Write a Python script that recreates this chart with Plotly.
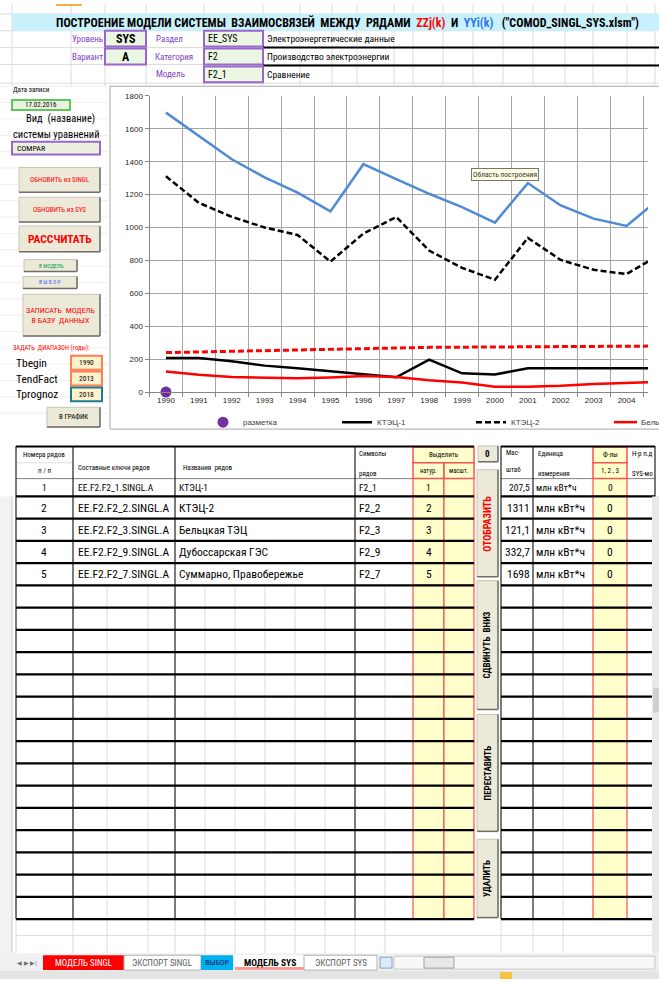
import plotly.graph_objects as go

W, H = 659, 984
def X(p): return p / W
def Y(p): return 1 - p / H

# ---------------- data ----------------
years = list(range(1990, 2006))
tick_years = list(range(1990, 2005))
mark_x = [1990]
mark_y = [0]
ktec1 = [207.5, 207, 187, 161, 145, 127, 107, 90, 197, 114, 107, 145, 145, 145, 145, 145]
ktec2 = [1311, 1150, 1065, 1000, 955, 793, 963, 1064, 860, 755, 683, 937, 803, 743, 717, 834]
belts = [125, 105, 92, 89, 84, 89, 98, 92, 72, 58, 33, 33, 38, 50, 58, 62]
dubos = [240, 244, 252, 256, 260, 264, 267, 270, 272, 273, 274, 276, 277, 278, 280, 280]
summa = [1698, 1555, 1415, 1305, 1212, 1098, 1385, 1294, 1205, 1124, 1030, 1270, 1134, 1054, 1010, 1176]
y_ticks = list(range(0, 1801, 200))

row_nums = ["1", "2", "3", "4", "5"]
row_keys = ["EE.F2.F2_1.SINGL.A", "EE.F2.F2_2.SINGL.A", "EE.F2.F2_3.SINGL.A",
            "EE.F2.F2_9.SINGL.A", "EE.F2.F2_7.SINGL.A"]
row_names = ["КТЭЦ-1", "КТЭЦ-2", "Бельцкая ТЭЦ", "Дубоссарская ГЭС", "Суммарно, Правобережье"]
row_syms = ["F2_1", "F2_2", "F2_3", "F2_9", "F2_7"]
row_sel = ["1", "2", "3", "4", "5"]
row_scale = ["207,5", "1311", "121,1", "332,7", "1698"]
row_unit = ["млн кВт*ч"] * 5
row_f = ["0"] * 5

NARROW = "Liberation Sans Narrow, Arial Narrow, Roboto Condensed, Liberation Sans, Arial, sans-serif"
SANS = "Liberation Sans, Arial, sans-serif"
PURPLE = "#7F3FBF"
RED = "#FF0000"

shapes, annos = [], []

def R(x0, y0, x1, y1, fill=None, line=None, lw=1, layer="above"):
    shapes.append(dict(type="rect", xref="paper", yref="paper",
                       x0=X(x0), x1=X(x1), y0=Y(y1), y1=Y(y0),
                       fillcolor=fill or "rgba(0,0,0,0)",
                       line=dict(color=line or "rgba(0,0,0,0)", width=lw if line else 0),
                       layer=layer))

def L(x0, y0, x1, y1, color, lw=1, layer="above"):
    shapes.append(dict(type="line", xref="paper", yref="paper",
                       x0=X(x0), x1=X(x1), y0=Y(y0), y1=Y(y1),
                       line=dict(color=color, width=lw), layer=layer))

def T(x, y, s, size=8, color="black", anchor="left", family=NARROW, bold=False, angle=0, bg=None, border=None):
    annos.append(dict(x=X(x), y=Y(y), xref="paper", yref="paper",
                      text=("<b>%s</b>" % s) if bold else s, showarrow=False,
                      xanchor=anchor, yanchor="middle", textangle=angle,
                      font=dict(size=size, color=color, family=family),
                      bgcolor=bg, bordercolor=border, borderwidth=1 if border else 0, borderpad=1))

def button(x0, y0, x1, y1):
    R(x0, y0, x1, y1, fill="#ECE9D8", line="#C9C5B5", lw=1)
    L(x0, y1, x1, y1, "#716F64", 1.5)
    L(x1, y0, x1, y1, "#716F64", 1.5)

GRID = "#DCDCDC"

# ---------------- top sheet area ----------------
for gx in [12, 71, 105, 146, 204, 263, 300, 332, 357, 394, 413, 443, 473, 503, 533, 565, 593, 627, 655]:
    L(gx, 0, gx, 83, GRID, 1)
for gy in [10, 27, 44, 61, 80]:
    L(0, gy, 659, gy, GRID, 1)
R(56, 0, 82, 2, fill="#F5B041")
R(12, 10, 659, 27, fill="#C9F1FB")
T(347, 18.5,
  "ПОСТРОЕНИЕ МОДЕЛИ СИСТЕМЫ  ВЗАИМОСВЯЗЕЙ  МЕЖДУ  РЯДАМИ  "
  "<span style='color:#FF0000'>ZZj(k)</span>  И  <span style='color:#2E75F0'>YYi(k)</span>"
  "   (\"COMOD_SINGL_SYS.xlsm\")", size=12, anchor="center", bold=True)

T(104, 35, "Уровень", 9, PURPLE, "right")
R(105, 27, 146, 43, fill="#EBF7E3", line="#9966CC", lw=2)
T(125.5, 35, "SYS", 12, "black", "center", bold=True)
T(155, 35, "Раздел", 9, PURPLE)
R(204, 27, 263, 43, fill="#EBF7E3", line="#9966CC", lw=2)
T(207, 35, "EE_SYS", 10)
T(266, 35, "Электроэнергетические данные", 9.5)
L(263, 44, 659, 44, "black", 2)

T(104, 53, "Вариант", 9, PURPLE, "right")
R(105, 45, 146, 61, fill="#EBF7E3", line="#9966CC", lw=2)
T(125.5, 53, "A", 12, "black", "center", bold=True)
T(154, 53, "Категория", 9, PURPLE)
R(204, 45, 263, 61, fill="#EBF7E3", line="#9966CC", lw=2)
T(207, 53, "F2", 10)
T(266, 53, "Производство электроэнергии", 9.5)
L(263, 62, 659, 62, "black", 2)

T(155, 71, "Модель", 9, PURPLE)
R(204, 63, 263, 79, fill="#EBF7E3", line="#9966CC", lw=2)
T(207, 71, "F2_1", 10)
T(266, 71, "Сравнение", 9.5)

# ---------------- left panel ----------------
for gy in range(0, 21):
    L(0, 83 + gy * 16.5, 108, 83 + gy * 16.5, "#EEEEEE", 1)
T(12, 87, "Дата записи", 7)
R(12, 97, 70, 107, fill="#EBF1DE", line="#5CC85C", lw=2)
T(41, 102, "17.02.2016", 7, anchor="center")
T(61, 116, "Вид  (название)", 10.5, anchor="center")
T(56, 132, "системы уравнений", 10.5, anchor="center")
R(12, 139, 100, 152, fill="#EBF1DE", line="#9966CC", lw=2)
T(16, 145.5, "COMPAR", 8)
button(19, 165, 100, 190)
T(59.5, 177.5, "ОБНОВИТЬ из SINGL", 7, RED, "center")
button(19, 195, 100, 220)
T(59.5, 207.5, "ОБНОВИТЬ из SYS", 7, RED, "center")
button(19, 224, 100, 250)
T(59.5, 237, "РАССЧИТАТЬ", 11.5, RED, "center", bold=True)
button(24, 258, 77, 270)
T(50.5, 264, "В МОДЕЛЬ", 5.5, "#00A050", "center")
button(23, 275, 77, 287)
T(50, 281, "В Ы Б О Р", 5.5, "#3366FF", "center")
button(23, 293, 100, 335)
T(61.5, 314, "ЗАПИСАТЬ  МОДЕЛЬ<br>В БАЗУ  ДАННЫХ", 8, RED, "center")
T(12, 347, "ЗАДАТЬ  ДИАПАЗОН (годы):", 6.5, RED)
T(15, 362, "Tbegin", 11.5)
R(71, 355, 102, 369, fill="#FFF2CC", line="#FF7F50", lw=2)
T(86.5, 362, "1990", 7.5, anchor="center")
T(15, 378, "TendFact", 11.5)
R(71, 371, 102, 385, fill="#FFF2CC", line="#FF7F50", lw=2)
T(86.5, 378, "2013", 7.5, anchor="center")
T(15, 394, "Tprognoz", 11.5)
R(71, 387, 102, 401, fill="#FFF2CC", line="#1F7A8C", lw=2)
T(86.5, 394, "2018", 7.5, anchor="center")
button(47, 407, 100, 427)
T(73.5, 417, "В ГРАФИК", 7, "black", "center")

# chart frame
R(110, 83, 662, 429, fill="white", line="#A6A6A6", lw=1, layer="below")

# tooltip
T(505, 172.5, "Область построения", 7.5, "#333333", "center", bg="#FFFFE1", border="#767676")

# tail of the legend (cut by the window edge, as in the screenshot)
L(614, 422, 637, 422, RED, 2.5)
T(640, 422, "Бельцкая ТЭЦ", 8, "#404040", family=SANS)

# ---------------- table ----------------
ROW0 = 497
RH = 22.45
row_lines = [ROW0 + RH * k for k in range(20)]
for gx in [107, 148, 205, 235, 265, 295, 325, 385, 563]:
    L(gx, 587, gx, 958, GRID, 1)
for gx in [16, 73, 175, 355, 501, 533]:
    L(gx, 923, gx, 958, GRID, 1)
L(16, 940, 655, 940, GRID, 1)
# header
L(16, 463, 73, 463, GRID, 1)
L(16, 479, 474, 479, "#808080", 1)
L(501, 479, 655, 479, "#808080", 1)
R(413, 447, 474, 463, fill="#FFFFCC", line="#FF5050", lw=1.5)
R(413, 463, 444, 479, fill="#FFFFCC", line="#FF5050", lw=1.5)
R(444, 463, 474, 479, fill="#FFFFCC", line="#FF5050", lw=1.5)
R(593, 447, 627, 463, fill="#FFFFCC", line="#FF5050", lw=1.5)
R(593, 463, 627, 479, fill="#FFFFCC", line="#FF5050", lw=1.5)
T(44, 455, "Номера рядов", 7, anchor="center")
T(44, 471, "п / п", 7, anchor="center")
T(77, 468, "Составные ключи рядов", 7)
T(182, 468, "Названия  рядов", 7)
T(358, 454, "Символы", 7)
T(358, 474, "рядов", 7)
T(443.5, 455, "Выделить", 7, anchor="center")
T(428.5, 471, "натур.", 6.5, anchor="center")
T(459, 471, "масшт.", 6.5, anchor="center")
T(505, 453, "Мас-", 7)
T(505, 470, "штаб", 7)
T(537, 454, "Единица", 7)
T(537, 474, "измерения", 7)
T(610, 455, "Ф-лы", 7, anchor="center")
T(610, 471, "1, 2 , 3", 7, anchor="center")
T(631, 454, "Н-р п.д", 7)
T(631, 474, "SYS-мо", 7)
button(478, 446, 498, 462)
T(488, 454, "0", 9, anchor="center", bold=True)
# yellow selection cells for all rows
cell_rows = [(479, ROW0)] + [(row_lines[k], row_lines[k + 1]) for k in range(19)]
for (a, b) in cell_rows:
    R(413, a, 444, b, fill="#FFFFCC", line="#FF5050", lw=1.2)
    R(444, a, 474, b, fill="#FFFFCC", line="#FF5050", lw=1.2)
    R(593, a, 627, b, fill="#FFFFCC", line="#FF5050", lw=1.2)
# vertical borders
for gx in [16, 73, 175, 355, 501, 533, 655]:
    L(gx, 446, gx, 923.5, "#202020", 1.2)
L(16, 446.5, 474, 446.5, "black", 2)
L(501, 446.5, 655, 446.5, "black", 2)
for yl in row_lines:
    L(16, yl, 474, yl, "black", 2.2)
    L(501, yl, 655, yl, "black", 2.2)
# row texts
for i in range(5):
    if i == 0:
        yc, fs = 488, 9.5
    else:
        yc, fs = ROW0 + RH * (i - 1) + RH / 2, 11.5
    T(44.5, yc, row_nums[i], fs, anchor="center")
    T(77, yc, row_keys[i], fs)
    T(178, yc, row_names[i], fs)
    T(358, yc, row_syms[i], fs)
    T(428.5, yc, row_sel[i], fs, anchor="center")
    T(531, yc, row_scale[i], fs, anchor="right")
    T(535, yc, row_unit[i], fs)
    T(610, yc, row_f[i], fs, anchor="center")
# vertical action buttons
button(477, 470, 498, 578)
T(487.5, 524, "ОТОБРАЗИТЬ", 10, RED, "center", bold=True, angle=-90)
button(477, 582, 498, 712)
T(487.5, 647, "СДВИНУТЬ  ВНИЗ", 9, "black", "center", bold=True, angle=-90)
button(477, 717, 498, 835)
T(487.5, 776, "ПЕРЕСТАВИТЬ", 9, "black", "center", bold=True, angle=-90)
button(477, 843, 498, 922)
T(487.5, 882.5, "УДАЛИТЬ", 9, "black", "center", bold=True, angle=-90)

# left row-header strip and right scrollbar
R(0, 497, 12, 958, fill="#F2F2F2")
L(12, 497, 12, 958, "#C8C8C8", 1)
R(652, 497, 659, 958, fill="#E9E9E9")
R(653, 690, 659, 715, fill="#D0D0D0")

# ---------------- sheet tabs ----------------
R(0, 958, 659, 976, fill="#F0F0F0")
T(27, 967.5, "◀ ▶ ▶|", 6, "#707070", "center", family=SANS)
R(43, 960, 124, 975, fill="#FF0000")
T(83.5, 967.5, "МОДЕЛЬ SINGL", 9, "white", "center")
R(124, 960, 201, 975, fill="#FFFFFF", line="#B0B0B0")
T(162.5, 967.5, "ЭКСПОРТ SINGL", 9, "#606060", "center")
R(201, 960, 233, 975, fill="#00B0F0")
T(217, 967.5, "ВЫБОР", 8, "#002060", "center")
R(235, 960, 304, 975, fill="#FFFFFF")
R(235, 972, 304, 975, fill="#FF9999")
T(269.5, 967, "МОДЕЛЬ SYS", 9.5, "black", "center", bold=True)
R(304, 960, 377, 975, fill="#FFFFFF", line="#B0B0B0")
T(340.5, 967.5, "ЭКСПОРТ SYS", 9, "#606060", "center")
R(380, 962, 392, 973, fill="#DDEBF7", line="#7F9FBF")
R(394, 961, 655, 974, fill="#F8F8F8", line="#C8C8C8")
R(424, 962, 454, 973, fill="#E8E8E8", line="#A0A0A0")
R(0, 976, 659, 984, fill="#E4E4E4")
R(500, 977, 512, 984, fill="#F5C242")

# ---------------- traces ----------------
fig = go.Figure()
fig.add_trace(go.Scatter(x=mark_x, y=mark_y, mode="markers", name="разметка",
                         marker=dict(size=11, color="#7030A0"), cliponaxis=False))
fig.add_trace(go.Scatter(x=years, y=ktec1, mode="lines", name="КТЭЦ-1",
                         line=dict(color="black", width=2.5)))
fig.add_trace(go.Scatter(x=years, y=ktec2, mode="lines", name="КТЭЦ-2",
                         line=dict(color="black", width=2.5, dash="6px,3px")))
fig.add_trace(go.Scatter(x=years, y=belts, mode="lines", name="Бельцкая ТЭЦ",
                         line=dict(color=RED, width=2.5), showlegend=False))
fig.add_trace(go.Scatter(x=years, y=dubos, mode="lines", name="Дубоссарская ГЭС",
                         line=dict(color=RED, width=3, dash="6px,3px"), showlegend=False))
fig.add_trace(go.Scatter(x=years, y=summa, mode="lines", name="Суммарно, Правобережье",
                         line=dict(color="#4F8AD6", width=2.5), showlegend=False))

L0, S = 149.5, 32.9
x_right = 1989.5 + (648 - L0) / S

fig.update_layout(
    width=W, height=H, autosize=False,
    margin=dict(l=0, r=0, t=0, b=0),
    paper_bgcolor="white", plot_bgcolor="white",
    shapes=shapes, annotations=annos,
    showlegend=True,
    legend=dict(orientation="h", x=X(203), xanchor="left", y=Y(422), yanchor="middle",
                entrywidth=89, entrywidthmode="pixels", itemwidth=30,
                font=dict(size=8, color="#404040", family=SANS), bgcolor="rgba(0,0,0,0)"),
    xaxis=dict(domain=[X(L0), X(648)], range=[1989.5, x_right],
               tickmode="array", tickvals=tick_years, ticktext=[str(v) for v in tick_years],
               ticks="", showgrid=False, zeroline=False,
               showline=True, linecolor="#868686", linewidth=1,
               tickfont=dict(size=8, color="#262626", family=SANS),
               minor=dict(tick0=1989.5, dtick=1, showgrid=True, gridcolor="#A6A6A6", gridwidth=1,
                          ticks="outside", ticklen=4, tickcolor="#868686")),
    yaxis=dict(domain=[Y(391.7), Y(92.7)], range=[0, 1800],
               tickmode="array", tickvals=y_ticks,
               showgrid=True, gridcolor="#A6A6A6", gridwidth=1, zeroline=False,
               showline=True, linecolor="#868686", linewidth=1,
               ticks="outside", ticklen=4, tickcolor="#868686",
               tickfont=dict(size=8, color="#262626", family=SANS)),
)

fig.write_html("out.html", config={"displayModeBar": False},
               post_script="document.body.style.margin='0';document.body.style.overflow='hidden';")
